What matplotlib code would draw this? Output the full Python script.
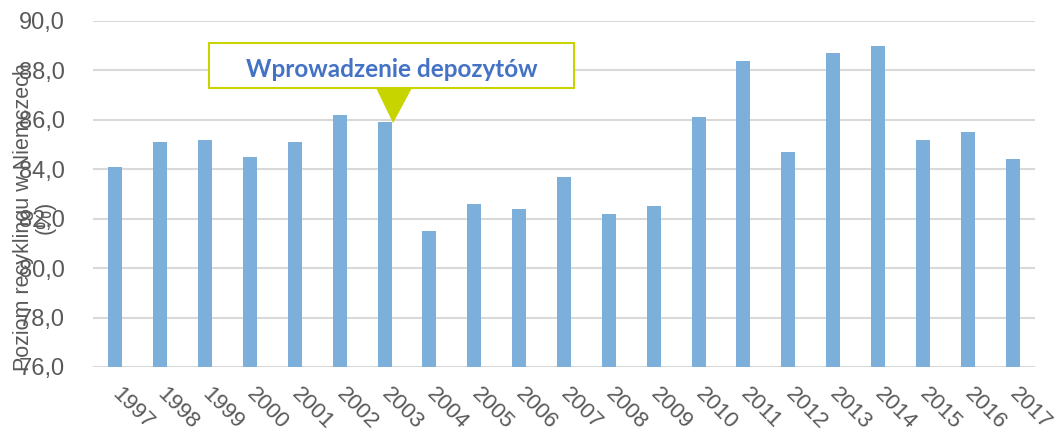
import matplotlib
matplotlib.use("Agg")
import matplotlib.pyplot as plt
from matplotlib.patches import Polygon, Rectangle

years = [str(y) for y in range(1997, 2018)]
values = [84.1, 85.1, 85.2, 84.5, 85.1, 86.2, 85.9, 81.5, 82.6, 82.4, 83.7,
          82.2, 82.5, 86.1, 88.4, 84.7, 88.7, 89.0, 85.2, 85.5, 84.4]
yticks = [76, 78, 80, 82, 84, 86, 88, 90]
ytick_labels = ["76,0", "78,0", "80,0", "82,0", "84,0", "86,0", "88,0", "90,0"]
ylabel = "Poziom recyklingu w Niemczech\n(%)"
note = "Wprowadzenie depozytów"
note_year = "2003"

plt.rcParams['font.family'] = ['Liberation Sans', 'DejaVu Sans']
gray = "#595959"

fig = plt.figure(figsize=(10.59, 4.34), dpi=100)
ax = fig.add_axes([93/1059, 1-367/434, (1035-93)/1059, (367-21)/434])

x = list(range(len(years)))
ax.bar(x, [v - 76 for v in values], bottom=76, width=0.31, color="#7cb0da", zorder=3)
ax.set_xlim(-0.5, len(years) - 0.5)
ax.set_ylim(76, 90)
ax.set_yticks(yticks)
ax.set_yticklabels(ytick_labels, fontsize=17, color=gray)
ax.set_xticks(x)
ax.set_xticklabels(years, fontsize=16, color=gray, rotation=-45, ha="left",
                   rotation_mode="anchor", va="center")
ax.tick_params(axis="both", length=0)
ax.tick_params(axis="x", pad=17)
ax.tick_params(axis="y", pad=20)
for s in ax.spines.values():
    s.set_visible(False)
ax.grid(axis="y", color="#d9d9d9", linewidth=1.5, zorder=0)

fig.text(34/1059, 1-217/434, ylabel, rotation=90, ha="center", va="center",
         multialignment="center", fontsize=15.5, color=gray, linespacing=1.05)

# annotation callout
i = years.index(note_year)
ax.add_patch(Rectangle((i - 3.914, 87.29), 8.13, 1.82, facecolor="white",
                       edgecolor="#c8d400", linewidth=1.5, zorder=5))
ax.add_patch(Polygon([(i - 0.19, 87.29), (i + 0.61, 87.29), (i + 0.19, values[i] - 0.03)],
                     closed=True, facecolor="#c8d400", edgecolor="none", zorder=6))
ax.text(i + 0.16, 88.05, note, ha="center", va="center", fontsize=17.5,
        fontweight="bold", color="#4472c4", family=["Lato", "DejaVu Sans"], zorder=7)

fig.savefig("out.png", dpi=100)
